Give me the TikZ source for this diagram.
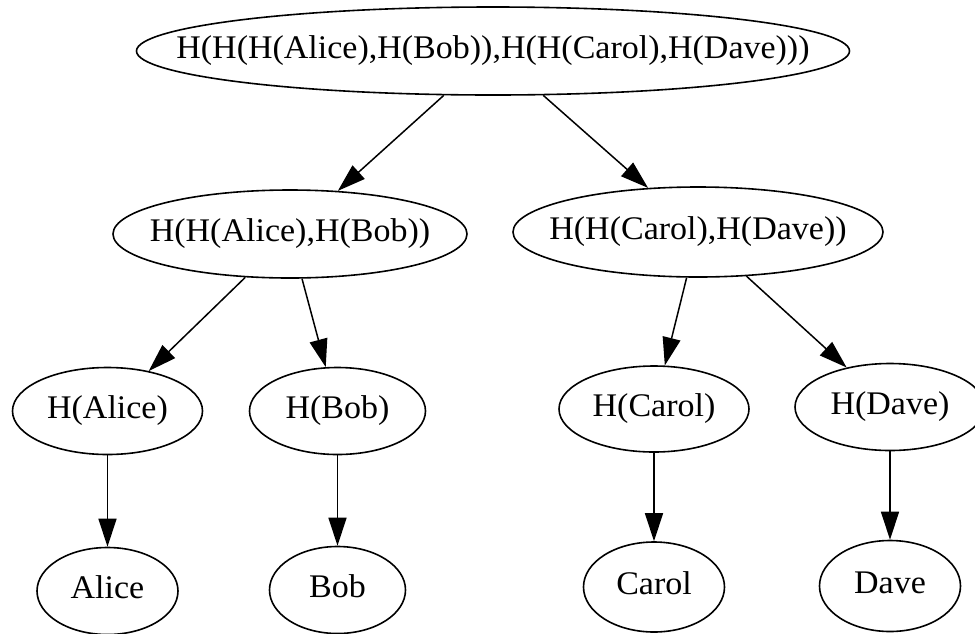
\documentclass[tikz,border=0pt]{standalone}
\usepackage{fontspec}
\setmainfont{Liberation Serif}
\usetikzlibrary{shapes.geometric,arrows.meta}
\newcommand\nlab[1]{\makebox[0pt]{\scalebox{1.03}[1]{#1}}}
\tikzset{
  nd/.style 2 args={ellipse, draw, line width=0.8pt, inner sep=0pt,
    text height=0.7em, text depth=0pt, font=\fontsize{16.5}{19}\selectfont,
    minimum width=#1*0.5pt, minimum height=#2*0.5pt},
  edge/.style={line width=0.75pt, -{Triangle[length=14pt,width=9pt]}}
}
\begin{document}
\begin{tikzpicture}[x=0.5pt,y=-0.5pt]
\useasboundingbox[fill=white] (0,0) rectangle (975,633);
\node[nd={713}{88}] (root) at (493,51) {\nlab{H(H(H(Alice),H(Bob)),H(H(Carol),H(Dave)))}};
\node[nd={354}{88}] (l) at (290,234) {\nlab{H(H(Alice),H(Bob))}};
\node[nd={370}{90}] (r) at (698,232) {\nlab{H(H(Carol),H(Dave))}};
\node[nd={190}{87}] (ha) at (107.5,411) {\nlab{H(Alice)}};
\node[nd={176}{87}] (hb) at (337.5,411) {\nlab{H(Bob)}};
\node[nd={190}{86}] (hc) at (654,409) {\nlab{H(Carol)}};
\node[nd={190}{87}] (hd) at (890,407) {\nlab{H(Dave)}};
\node[nd={141}{87}] (a) at (107.5,591) {\nlab{Alice}};
\node[nd={136}{87}] (b) at (337.5,590) {\nlab{Bob}};
\node[nd={141}{90}] (c) at (654,587) {\nlab{Carol}};
\node[nd={141}{91}] (d) at (890,586) {\nlab{Dave}};
\draw[edge] (root) -- (l);
\draw[edge] (root) -- (r);
\draw[edge] (l) -- (ha);
\draw[edge] (l) -- (hb);
\draw[edge] (r) -- (hc);
\draw[edge] (r) -- (hd);
\draw[edge] (ha) -- (a);
\draw[edge] (hb) -- (b);
\draw[edge] (hc) -- (c);
\draw[edge] (hd) -- (d);
\end{tikzpicture}
\end{document}
